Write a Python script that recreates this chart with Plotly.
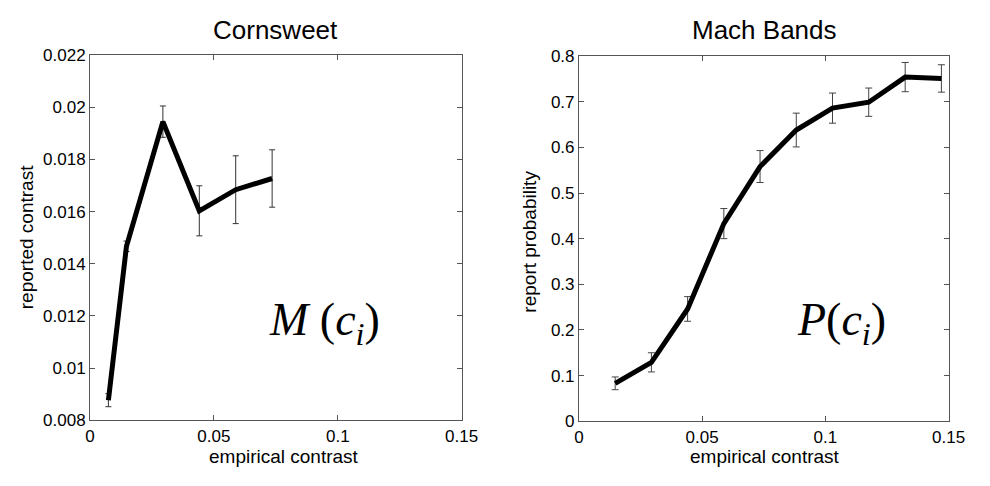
import plotly.graph_objects as go

# ---- data ----
corn_x = [0.0074, 0.0147, 0.0294, 0.0441, 0.0588, 0.0735]
corn_y = [0.00877, 0.01467, 0.01945, 0.01603, 0.01684, 0.01727]
corn_err = [0.00025, 0.0002, 0.0006, 0.00096, 0.0013, 0.0011]

mach_x = [0.0147, 0.0294, 0.0441, 0.0588, 0.0735, 0.0882, 0.1029, 0.1176, 0.1324, 0.1471]
mach_y = [0.083, 0.129, 0.246, 0.433, 0.558, 0.638, 0.686, 0.699, 0.754, 0.751]
mach_err = [0.014, 0.021, 0.027, 0.033, 0.035, 0.037, 0.033, 0.031, 0.032, 0.030]

x_ticks = [0, 0.05, 0.1, 0.15]
x_ticktext = ["0", "0.05", "0.1", "0.15"]
corn_yticks = [0.008, 0.01, 0.012, 0.014, 0.016, 0.018, 0.02, 0.022]
corn_yticktext = ["0.008", "0.01", "0.012", "0.014", "0.016", "0.018", "0.02", "0.022"]
mach_yticks = [0, 0.1, 0.2, 0.3, 0.4, 0.5, 0.6, 0.7, 0.8]
mach_yticktext = ["0", "0.1", "0.2", "0.3", "0.4", "0.5", "0.6", "0.7", "0.8"]

W, H = 990, 486
FONT = "Liberation Sans"

fig = go.Figure()
fig.add_trace(go.Scatter(
    x=corn_x, y=corn_y, mode="lines",
    line=dict(color="black", width=5),
    error_y=dict(type="data", array=corn_err, color="#333", thickness=1, width=3),
    xaxis="x", yaxis="y", showlegend=False))
fig.add_trace(go.Scatter(
    x=mach_x, y=mach_y, mode="lines",
    line=dict(color="black", width=5),
    error_y=dict(type="data", array=mach_err, color="#444", thickness=1, width=3.5),
    xaxis="x2", yaxis="y2", showlegend=False))

axis_common = dict(
    showline=True, linecolor="#555", linewidth=1, mirror="ticks",
    ticks="inside", ticklen=5, tickcolor="#555", showgrid=False, zeroline=False,
    tickfont=dict(family=FONT, size=17, color="black"),
)

fig.update_layout(
    width=W, height=H,
    margin=dict(l=0, r=0, t=0, b=0),
    paper_bgcolor="white", plot_bgcolor="white",
    xaxis=dict(domain=[87 / W, 467 / W], range=[0, 0.15], tickvals=x_ticks,
               ticktext=x_ticktext, anchor="y", **axis_common),
    yaxis=dict(domain=[1 - 428 / H, 1 - 48 / H], range=[0.008, 0.022],
               tickvals=corn_yticks, ticktext=corn_yticktext, anchor="x", **axis_common),
    xaxis2=dict(domain=[587 / W, 965 / W], range=[0, 0.15], tickvals=x_ticks,
                ticktext=x_ticktext, anchor="y2", **axis_common),
    yaxis2=dict(domain=[1 - 429 / H, 1 - 49 / H], range=[0, 0.8],
                tickvals=mach_yticks, ticktext=mach_yticktext, anchor="x2", **axis_common),
)

def ann(text, x, y, size, family=FONT, angle=0):
    fig.add_annotation(text=text, x=x / W, y=1 - y / H, xref="paper", yref="paper",
                       showarrow=False, textangle=angle, xanchor="center", yanchor="middle",
                       font=dict(family=family, size=size, color="black"))

ann("Cornsweet", 277, 22, 26)
ann("Mach Bands", 777, 22, 26)
ann("empirical contrast", 285, 466, 19)
ann("empirical contrast", 777, 466, 19)
ann("reported contrast", 22, 238, 19, angle=-90)
ann("report probability", 536, 242, 19, angle=-90)
SERIF = "Liberation Serif"
ann("<i>M</i> (<i>c</i><sub><i>i</i></sub>)", 327, 327, 46, family=SERIF)
ann("<i>P</i>(<i>c</i><sub><i>i</i></sub>)", 856, 327, 46, family=SERIF)

fig.write_html("out.html")
